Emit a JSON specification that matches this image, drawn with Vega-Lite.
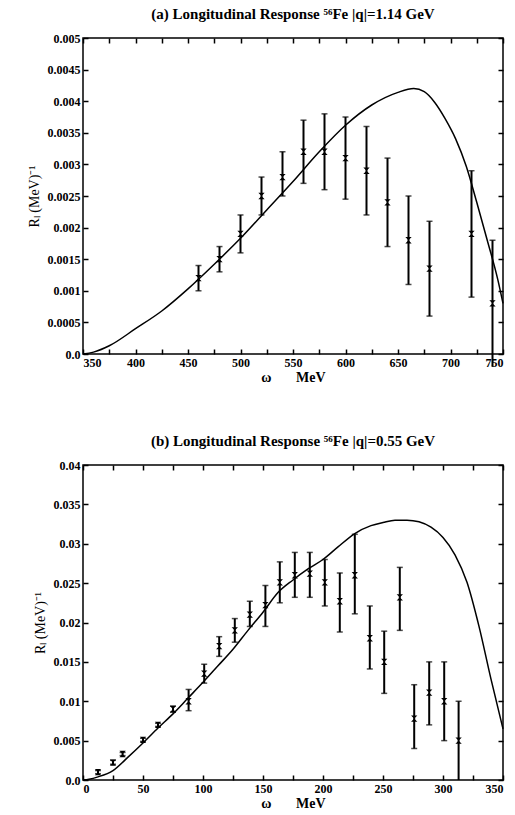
{
  "$schema": "https://vega.github.io/schema/vega-lite/v6.json",
  "padding": {"left": 26, "top": 6, "right": 5, "bottom": 5},
  "background": "white",
  "spacing": 48,
  "config": {
    "font": "Liberation Serif",
    "view": {"stroke": "black", "strokeWidth": 1.5},
    "axis": {"domain": false, "grid": false, "tickColor": "black", "tickSize": -5, "tickWidth": 1.5, "labelPadding": 8, "labelFont": "Liberation Serif", "labelFontWeight": "bold", "labelFontSize": 12, "labelColor": "black", "titleColor": "black", "titleFont": "Liberation Serif"},
    "title": {"font": "Liberation Serif", "fontWeight": "bold", "fontSize": 15, "color": "black"}
  },
  "datasets": {
    "curveA": [
      {"w": 350, "r": 0}, {"w": 360, "r": 0.00003}, {"w": 375, "r": 0.00013}, {"w": 400, "r": 0.0004},
      {"w": 425, "r": 0.00068}, {"w": 450, "r": 0.00103}, {"w": 475, "r": 0.00142}, {"w": 500, "r": 0.00183},
      {"w": 525, "r": 0.00228}, {"w": 550, "r": 0.00273}, {"w": 575, "r": 0.0032}, {"w": 600, "r": 0.00362},
      {"w": 625, "r": 0.00394}, {"w": 650, "r": 0.00414}, {"w": 665, "r": 0.0042}, {"w": 675, "r": 0.00415},
      {"w": 685, "r": 0.00398}, {"w": 695, "r": 0.00372}, {"w": 705, "r": 0.0034}, {"w": 715, "r": 0.00297},
      {"w": 725, "r": 0.0024}, {"w": 735, "r": 0.0018}, {"w": 745, "r": 0.00118}, {"w": 750, "r": 0.0008}
    ],
    "ptsA": [
      {"w": 460, "r": 0.0012, "lo": 0.001, "hi": 0.0014},
      {"w": 480, "r": 0.0015, "lo": 0.0013, "hi": 0.0017},
      {"w": 500, "r": 0.0019, "lo": 0.0016, "hi": 0.0022},
      {"w": 520, "r": 0.0025, "lo": 0.0022, "hi": 0.0028},
      {"w": 540, "r": 0.0028, "lo": 0.0025, "hi": 0.0032},
      {"w": 560, "r": 0.0032, "lo": 0.0027, "hi": 0.0037},
      {"w": 580, "r": 0.0032, "lo": 0.0026, "hi": 0.0038},
      {"w": 600, "r": 0.0031, "lo": 0.00245, "hi": 0.00375},
      {"w": 620, "r": 0.0029, "lo": 0.0022, "hi": 0.0036},
      {"w": 640, "r": 0.0024, "lo": 0.0017, "hi": 0.0031},
      {"w": 660, "r": 0.0018, "lo": 0.0011, "hi": 0.0025},
      {"w": 680, "r": 0.00135, "lo": 0.0006, "hi": 0.0021},
      {"w": 720, "r": 0.0019, "lo": 0.0009, "hi": 0.0029},
      {"w": 740, "r": 0.0008, "lo": -0.0002, "hi": 0.0018}
    ],
    "curveB": [
      {"w": 0, "r": 0}, {"w": 5, "r": 0.0001}, {"w": 12.5, "r": 0.0004}, {"w": 25, "r": 0.0012},
      {"w": 37.5, "r": 0.0029}, {"w": 50, "r": 0.0047}, {"w": 62.5, "r": 0.0066}, {"w": 75, "r": 0.0084},
      {"w": 87.5, "r": 0.0104}, {"w": 100, "r": 0.0124}, {"w": 112.5, "r": 0.0145}, {"w": 125, "r": 0.0166},
      {"w": 137.5, "r": 0.019}, {"w": 150, "r": 0.0213}, {"w": 162.5, "r": 0.0238}, {"w": 175, "r": 0.0254},
      {"w": 187.5, "r": 0.0268}, {"w": 200, "r": 0.028}, {"w": 212.5, "r": 0.0296}, {"w": 226.5, "r": 0.0313},
      {"w": 240, "r": 0.0323}, {"w": 250, "r": 0.0327}, {"w": 260, "r": 0.033}, {"w": 270, "r": 0.033},
      {"w": 280, "r": 0.0328}, {"w": 290, "r": 0.0321}, {"w": 300, "r": 0.0308}, {"w": 310, "r": 0.0286},
      {"w": 320, "r": 0.0251}, {"w": 330, "r": 0.0195}, {"w": 340, "r": 0.0128}, {"w": 350, "r": 0.0065}
    ],
    "ptsB": [
      {"w": 12.5, "r": 0.001, "lo": 0.0008, "hi": 0.0012},
      {"w": 25, "r": 0.0022, "lo": 0.002, "hi": 0.0025},
      {"w": 33, "r": 0.0033, "lo": 0.0031, "hi": 0.0035},
      {"w": 50, "r": 0.0051, "lo": 0.0049, "hi": 0.0053},
      {"w": 62.5, "r": 0.007, "lo": 0.0068, "hi": 0.0072},
      {"w": 75, "r": 0.009, "lo": 0.0086, "hi": 0.0094},
      {"w": 88, "r": 0.01, "lo": 0.0088, "hi": 0.0115},
      {"w": 101, "r": 0.0135, "lo": 0.0123, "hi": 0.0147},
      {"w": 113.5, "r": 0.017, "lo": 0.0157, "hi": 0.0182},
      {"w": 126.5, "r": 0.019, "lo": 0.0175, "hi": 0.0205},
      {"w": 139, "r": 0.021, "lo": 0.0195, "hi": 0.0227},
      {"w": 152, "r": 0.0222, "lo": 0.0195, "hi": 0.0247},
      {"w": 164, "r": 0.0251, "lo": 0.0225, "hi": 0.0277},
      {"w": 176.5, "r": 0.026, "lo": 0.0232, "hi": 0.0289},
      {"w": 189, "r": 0.0262, "lo": 0.0232, "hi": 0.0289},
      {"w": 201.5, "r": 0.0251, "lo": 0.0221, "hi": 0.028},
      {"w": 214, "r": 0.0227, "lo": 0.0188, "hi": 0.0263},
      {"w": 226.5, "r": 0.026, "lo": 0.0211, "hi": 0.0312},
      {"w": 239, "r": 0.018, "lo": 0.0141, "hi": 0.0221},
      {"w": 251, "r": 0.015, "lo": 0.011, "hi": 0.0189},
      {"w": 264, "r": 0.0232, "lo": 0.019, "hi": 0.027},
      {"w": 276, "r": 0.0078, "lo": 0.004, "hi": 0.0121},
      {"w": 288.5, "r": 0.0111, "lo": 0.007, "hi": 0.015},
      {"w": 301, "r": 0.01, "lo": 0.005, "hi": 0.015},
      {"w": 313, "r": 0.005, "lo": 0, "hi": 0.01}
    ]
  },
  "vconcat": [
    {
      "width": 420,
      "height": 316,
      "title": {"text": "(a) Longitudinal Response \u2075\u2076Fe |q|=1.14 GeV", "offset": 10},
      "resolve": {"axis": {"x": "independent", "y": "independent"}},
      "layer": [
        {
          "data": {"name": "curveA"},
          "mark": {"type": "line", "color": "black", "strokeWidth": 1.5, "interpolate": "monotone"},
          "encoding": {
            "x": {"field": "w", "type": "quantitative", "scale": {"domain": [350, 750], "nice": false},
              "axis": {"values": [350, 375, 400, 425, 450, 475, 500, 525, 550, 575, 600, 625, 650, 675, 700, 725, 750], "labelExpr": "datum.value % 50 == 0 ? datum.label : ''", "title": "\u03c9\u00a0\u00a0\u00a0\u00a0\u00a0\u00a0\u00a0MeV", "titleFontSize": 14, "titleFontWeight": "bold", "titlePadding": 2}},
            "y": {"field": "r", "type": "quantitative", "scale": {"domain": [0, 0.005], "nice": false},
              "axis": {"values": [0, 0.0005, 0.001, 0.0015, 0.002, 0.0025, 0.003, 0.0035, 0.004, 0.0045, 0.005], "labelExpr": "datum.value == 0 ? '0.0' : format(datum.value, '.4~f')", "title": "R\u2097 (MeV)\u207b\u00b9", "titleFontWeight": "normal", "titleFontSize": 14, "titlePadding": 6}}
          }
        },
        {
          "data": {"name": "ptsA"},
          "mark": {"type": "rule", "color": "black", "strokeWidth": 2},
          "encoding": {
            "x": {"field": "w", "type": "quantitative", "scale": {"domain": [350, 750], "nice": false},
              "axis": {"orient": "top", "values": [350, 375, 400, 425, 450, 475, 500, 525, 550, 575, 600, 625, 650, 675, 700, 725, 750], "labels": false, "title": null}},
            "y": {"field": "lo", "type": "quantitative", "scale": {"domain": [0, 0.005], "nice": false},
              "axis": {"orient": "right", "values": [0, 0.0005, 0.001, 0.0015, 0.002, 0.0025, 0.003, 0.0035, 0.004, 0.0045, 0.005], "labels": false, "title": null}},
            "y2": {"field": "hi"}
          }
        },
        {
          "data": {"name": "ptsA"},
          "transform": [{"filter": "datum.lo > 0"}],
          "mark": {"type": "tick", "orient": "horizontal", "color": "black", "size": 6, "thickness": 1.5},
          "encoding": {
            "x": {"field": "w", "type": "quantitative", "scale": {"domain": [350, 750], "nice": false}, "axis": null},
            "y": {"field": "lo", "type": "quantitative", "scale": {"domain": [0, 0.005], "nice": false}, "axis": null}
          }
        },
        {
          "data": {"name": "ptsA"},
          "mark": {"type": "tick", "orient": "horizontal", "color": "black", "size": 6, "thickness": 1.5},
          "encoding": {
            "x": {"field": "w", "type": "quantitative", "scale": {"domain": [350, 750], "nice": false}, "axis": null},
            "y": {"field": "hi", "type": "quantitative", "scale": {"domain": [0, 0.005], "nice": false}, "axis": null}
          }
        },
        {
          "data": {"name": "ptsA"},
          "mark": {"type": "point", "shape": "M-1,-1L1,-1L-1,1L1,1Z", "filled": true, "color": "black", "size": 40, "opacity": 1},
          "encoding": {
            "x": {"field": "w", "type": "quantitative", "scale": {"domain": [350, 750], "nice": false}, "axis": null},
            "y": {"field": "r", "type": "quantitative", "scale": {"domain": [0, 0.005], "nice": false}, "axis": null}
          }
        }
      ]
    },
    {
      "width": 420,
      "height": 315,
      "title": {"text": "(b) Longitudinal Response \u2075\u2076Fe |q|=0.55 GeV", "offset": 10},
      "resolve": {"axis": {"x": "independent", "y": "independent"}},
      "layer": [
        {
          "data": {"name": "curveB"},
          "mark": {"type": "line", "color": "black", "strokeWidth": 1.5, "interpolate": "monotone"},
          "encoding": {
            "x": {"field": "w", "type": "quantitative", "scale": {"domain": [0, 350], "nice": false},
              "axis": {"values": [0, 25, 50, 75, 100, 125, 150, 175, 200, 225, 250, 275, 300, 325, 350], "labelExpr": "datum.value % 50 == 0 ? datum.label : ''", "title": "\u03c9\u00a0\u00a0\u00a0\u00a0\u00a0\u00a0\u00a0MeV", "titleFontSize": 14, "titleFontWeight": "bold", "titlePadding": 2}},
            "y": {"field": "r", "type": "quantitative", "scale": {"domain": [0, 0.04], "nice": false},
              "axis": {"values": [0, 0.005, 0.01, 0.015, 0.02, 0.025, 0.03, 0.035, 0.04], "labelExpr": "datum.value == 0 ? '0.0' : format(datum.value, '.4~f')", "title": "R\u2097 (MeV)\u207b\u00b9", "titleFontWeight": "normal", "titleFontSize": 14, "titlePadding": 6}}
          }
        },
        {
          "data": {"name": "ptsB"},
          "mark": {"type": "rule", "color": "black", "strokeWidth": 2},
          "encoding": {
            "x": {"field": "w", "type": "quantitative", "scale": {"domain": [0, 350], "nice": false},
              "axis": {"orient": "top", "values": [0, 25, 50, 75, 100, 125, 150, 175, 200, 225, 250, 275, 300, 325, 350], "labels": false, "title": null}},
            "y": {"field": "lo", "type": "quantitative", "scale": {"domain": [0, 0.04], "nice": false},
              "axis": {"orient": "right", "values": [0, 0.005, 0.01, 0.015, 0.02, 0.025, 0.03, 0.035, 0.04], "labels": false, "title": null}},
            "y2": {"field": "hi"}
          }
        },
        {
          "data": {"name": "ptsB"},
          "transform": [{"filter": "datum.lo > 0"}],
          "mark": {"type": "tick", "orient": "horizontal", "color": "black", "size": 6, "thickness": 1.5},
          "encoding": {
            "x": {"field": "w", "type": "quantitative", "scale": {"domain": [0, 350], "nice": false}, "axis": null},
            "y": {"field": "lo", "type": "quantitative", "scale": {"domain": [0, 0.04], "nice": false}, "axis": null}
          }
        },
        {
          "data": {"name": "ptsB"},
          "mark": {"type": "tick", "orient": "horizontal", "color": "black", "size": 6, "thickness": 1.5},
          "encoding": {
            "x": {"field": "w", "type": "quantitative", "scale": {"domain": [0, 350], "nice": false}, "axis": null},
            "y": {"field": "hi", "type": "quantitative", "scale": {"domain": [0, 0.04], "nice": false}, "axis": null}
          }
        },
        {
          "data": {"name": "ptsB"},
          "mark": {"type": "point", "shape": "M-1,-1L1,-1L-1,1L1,1Z", "filled": true, "color": "black", "size": 40, "opacity": 1},
          "encoding": {
            "x": {"field": "w", "type": "quantitative", "scale": {"domain": [0, 350], "nice": false}, "axis": null},
            "y": {"field": "r", "type": "quantitative", "scale": {"domain": [0, 0.04], "nice": false}, "axis": null}
          }
        }
      ]
    }
  ]
}
